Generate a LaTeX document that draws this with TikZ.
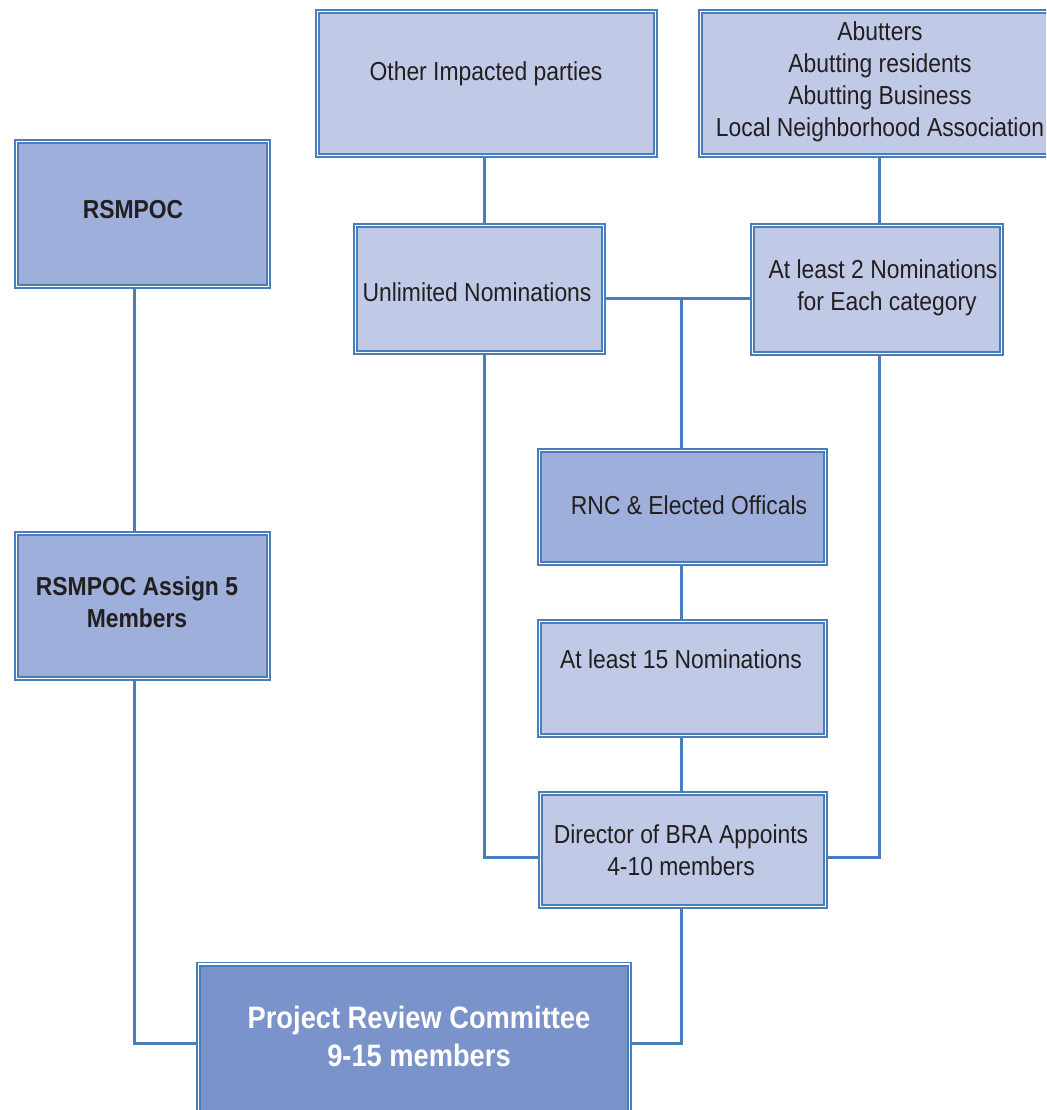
\documentclass[tikz,border=0pt]{standalone}
\usepackage{fontspec}
\setmainfont{Liberation Sans}[FakeStretch=0.88]
\usetikzlibrary{backgrounds}
\definecolor{bordc}{RGB}{74,126,187}
\definecolor{lightf}{RGB}{192,201,230}
\definecolor{medf}{RGB}{157,175,218}
\definecolor{darkf}{RGB}{123,147,203}
\definecolor{txtc}{RGB}{35,31,32}
\tikzset{
  box/.style={draw=bordc, line width=1.7pt, double=white, double distance=1.6pt, inner sep=0pt, rectangle},
  lightbox/.style={box, fill=lightf},
  medbox/.style={box, fill=medf},
  darkbox/.style={box, fill=darkf},
  txt/.style={inner sep=0pt, align=center, text=txtc, font=\fontsize{26}{32}\selectfont},
  btxt/.style={txt, font=\fontsize{26}{32}\selectfont\bfseries},
  ptxt/.style={inner sep=0pt, align=center, text=white, font=\fontsize{31}{38}\selectfont\bfseries},
  conn/.style={draw=bordc, line width=3pt}
}
\begin{document}
\begin{tikzpicture}[x=1pt,y=-1pt]
\useasboundingbox (0,0) rectangle (1046,1110);
\clip (0,0) rectangle (1046,1110);
% boxes
\node[lightbox, minimum width=338pt, minimum height=144pt] (other) at (486.5,83.5) {};
\node[lightbox, minimum width=359pt, minimum height=144pt] (abut) at (880,83.5) {};
\node[medbox, minimum width=252pt, minimum height=145pt] (rsm) at (142.5,214) {};
\node[lightbox, minimum width=248pt, minimum height=127pt] (unl) at (479.5,289) {};
\node[lightbox, minimum width=249pt, minimum height=128pt] (two) at (877,289.5) {};
\node[medbox, minimum width=286pt, minimum height=113pt] (rnc) at (682.5,507) {};
\node[lightbox, minimum width=286pt, minimum height=114pt] (fif) at (682.5,678.5) {};
\node[lightbox, minimum width=285pt, minimum height=113pt] (dir) at (683,850) {};
\node[medbox, minimum width=252pt, minimum height=145pt] (asg) at (142.5,606) {};
\node[darkbox, minimum width=431pt, minimum height=148pt] (prc) at (414,1038) {};
% texts
\node[txt] (other-t) at (486,74) {Other Impacted parties};
\node[txt] (abut-t) at (880,82) {Abutters\\Abutting residents\\Abutting Business\\Local Neighborhood Association};
\node[btxt] (rsm-t) at (133,210) {RSMPOC};
\node[txt] (unl-t) at (477,292) {Unlimited Nominations};
\node[txt] (two-t) at (883,288) {At least 2 Nominations\\\hspace*{8pt}for Each category};
\node[txt] (rnc-t) at (689,505) {RNC \& Elected Officals};
\node[txt] (fif-t) at (681,659) {At least 15 Nominations};
\node[txt] (dir-t) at (681,850) {Director of BRA Appoints\\4-10 members};
\node[btxt] (asg-t) at (137,602) {RSMPOC Assign 5\\Members};
\node[ptxt] (prc-t) at (419,1036) {Project Review Committee\\9-15 members};
% connector guides
\coordinate (xa) at (484,0);
\coordinate (xb) at (879,0);
\coordinate (xc) at (681,0);
\coordinate (xd) at (134,0);
\coordinate (yj) at (0,298);
\coordinate (yd) at (0,857);
\coordinate (yp) at (0,1043);
\coordinate (jn) at (xc |- yj);
\begin{scope}[on background layer]
\draw[conn] (other.south -| xa) -- (unl.north -| xa);
\draw[conn] (abut.south -| xb) -- (two.north -| xb);
\draw[conn] (unl.east |- yj) -- (two.west |- yj);
\draw[conn] (jn) -- (rnc.north -| xc);
\draw[conn] (rnc.south -| xc) -- (fif.north -| xc);
\draw[conn] (fif.south -| xc) -- (dir.north -| xc);
\draw[conn] (unl.south -| xa) |- (dir.west |- yd);
\draw[conn] (two.south -| xb) |- (dir.east |- yd);
\draw[conn] (rsm.south -| xd) -- (asg.north -| xd);
\draw[conn] (asg.south -| xd) |- (prc.west |- yp);
\draw[conn] (dir.south -| xc) |- (prc.east |- yp);
\end{scope}
\end{tikzpicture}
\end{document}
